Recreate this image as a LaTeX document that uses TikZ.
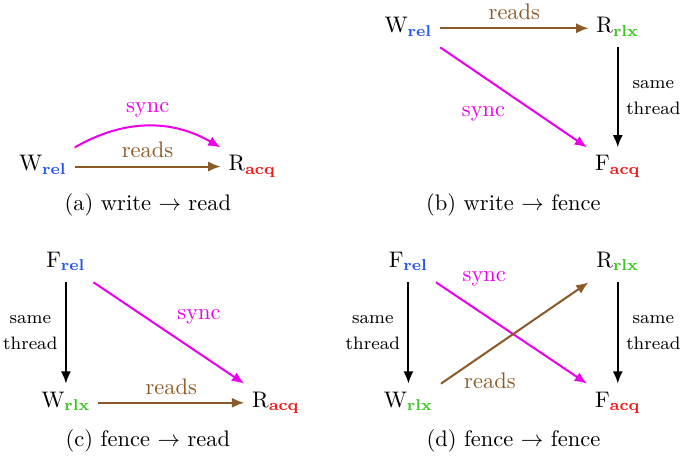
\documentclass[tikz,border=0pt]{standalone}
\usetikzlibrary{arrows.meta}

\newcommand{\mrel}{\textcolor{my_blue}{\mathbf{rel}}}
\newcommand{\mrlx}{\textcolor{my_green}{\mathbf{rlx}}}
\newcommand{\macq}{\textcolor{my_red}{\mathbf{acq}}}

\begin{document}
\begin{tikzpicture}[
    ev/.style={anchor=base,text height=1.6ex,text depth=0.7ex},
    reads/.style={draw=my_brown,line width=0.9pt,-{Latex[length=5.5pt,width=4.5pt]}},
    sync/.style={draw=my_magenta,line width=0.9pt,-{Latex[length=5.5pt,width=4.5pt]}},
    sameth/.style={draw=black,line width=0.9pt,-{Latex[length=5.5pt,width=4.5pt]}},
    readslab/.style={text=my_brown},
    synclab/.style={text=my_magenta},
    samethlab/.style={font=\footnotesize,align=center},
    capt/.style={anchor=center}
]
\definecolor{my_blue}{RGB}{35,85,245}
\definecolor{my_green}{RGB}{55,200,30}
\definecolor{my_red}{RGB}{240,25,25}
\definecolor{my_magenta}{RGB}{235,0,235}
\definecolor{my_brown}{RGB}{140,90,40}

\useasboundingbox (0,0) rectangle (10.70,7.31);

% (a) write -> read
\node[ev] (wa) at (0.67,4.64) {W$_{\mrel}$};
\node[ev] (ra) at (3.94,4.64) {R$_{\macq}$};
\draw[reads] (wa) -- (ra) node[midway,above,readslab] {reads};
\draw[sync] (wa.north east) to[bend left=30] node[midway,above,synclab] {sync} (ra.north west);
\node[capt] (capa) at (2.31,4.11) {(a) write $\rightarrow$ read};

% (b) write -> fence
\node[ev] (wb) at (6.38,6.80) {W$_{\mrel}$};
\node[ev] (rb) at (9.65,6.80) {R$_{\mrlx}$};
\node[ev] (fb) at (9.65,4.64) {F$_{\macq}$};
\draw[reads] (wb) -- (rb) node[midway,above,readslab] {reads};
\draw[sameth] (rb) -- (fb) node[midway,right,samethlab] {same\\[2pt]thread};
\draw[sync] (wb.south east) -- (fb.north west) node[pos=0.5,below left,synclab] {sync};
\node[capt] (capb) at (8.02,4.11) {(b) write $\rightarrow$ fence};

% (c) fence -> read
\node[ev] (fc) at (1.03,3.13) {F$_{\mrel}$};
\node[ev] (wc) at (1.03,0.95) {W$_{\mrlx}$};
\node[ev] (rc) at (4.31,0.95) {R$_{\macq}$};
\draw[sameth] (fc) -- (wc) node[midway,left,samethlab] {same\\[2pt]thread};
\draw[reads] (wc) -- (rc) node[midway,above,readslab] {reads};
\draw[sync] (fc.south east) -- (rc.north west) node[pos=0.5,above right,synclab] {sync};
\node[capt] (capc) at (2.31,0.42) {(c) fence $\rightarrow$ read};

% (d) fence -> fence
\node[ev] (fd) at (6.38,3.13) {F$_{\mrel}$};
\node[ev] (wd) at (6.38,0.95) {W$_{\mrlx}$};
\node[ev] (rd) at (9.65,3.13) {R$_{\mrlx}$};
\node[ev] (fe) at (9.65,0.95) {F$_{\macq}$};
\draw[sameth] (fd) -- (wd) node[midway,left,samethlab] {same\\[2pt]thread};
\draw[sameth] (rd) -- (fe) node[midway,right,samethlab] {same\\[2pt]thread};
\draw[sync] (fd.south east) -- (fe.north west) node[pos=0.12,above right,synclab] {sync};
\draw[reads] (wd.north east) -- (rd.south west) node[pos=0.1,below right,yshift=4pt,readslab] {reads};
\node[capt] (capd) at (8.02,0.42) {(d) fence $\rightarrow$ fence};
\end{tikzpicture}
\end{document}
